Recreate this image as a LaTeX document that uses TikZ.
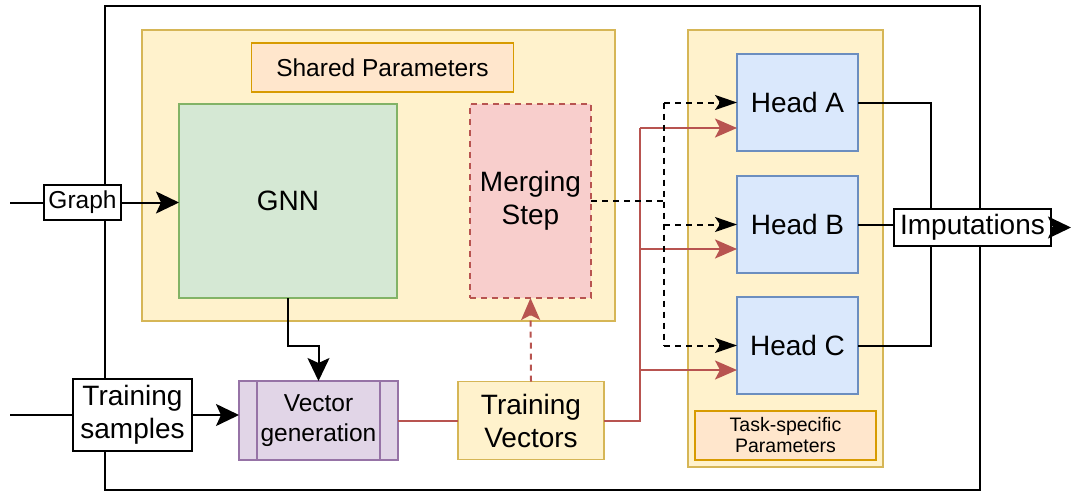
\documentclass[tikz,border=0pt]{standalone}
\usepackage{fontspec}
\setmainfont{Liberation Sans}
\usetikzlibrary{arrows.meta}
\definecolor{ylwF}{HTML}{FFF2CC}
\definecolor{ylwD}{HTML}{D6B656}
\definecolor{orgF}{HTML}{FFE6CC}
\definecolor{orgD}{HTML}{D79B00}
\definecolor{grnF}{HTML}{D5E8D4}
\definecolor{grnD}{HTML}{82B366}
\definecolor{redF}{HTML}{F8CECC}
\definecolor{redD}{HTML}{B85450}
\definecolor{bluF}{HTML}{DAE8FC}
\definecolor{bluD}{HTML}{6C8EBF}
\definecolor{purF}{HTML}{E1D5E7}
\definecolor{purD}{HTML}{9673A6}
\tikzset{
  box/.style={rectangle, inner sep=0pt, outer sep=0pt, line width=1.6pt, align=center, anchor=center},
  big/.style={font=\fontsize{28}{33}\selectfont},
  mid/.style={font=\fontsize{24.5}{30}\selectfont},
  sml/.style={font=\fontsize{19.5}{21}\selectfont},
  yel/.style={box, fill=ylwF, draw=ylwD},
  org/.style={box, fill=orgF, draw=orgD},
  wbox/.style={box, fill=white, draw=black},
  conn/.style={line width=2pt, black},
  barr/.style={conn, -{Stealth[length=23pt,width=22pt,inset=5pt]}},
  dconn/.style={line width=2pt, black, dash pattern=on 6pt off 5pt},
  darr/.style={dconn, -{Stealth[length=22pt,width=15pt,inset=5pt]}},
  rconn/.style={line width=2pt, redD},
  rarr/.style={rconn, -{Stealth[length=22pt,width=19pt,inset=5pt]}},
}
\begin{document}
\begin{tikzpicture}[x=1pt,y=-1pt]
\useasboundingbox (0,0) rectangle (1071,491);
% outer frame
\node[box, draw=black, line width=2pt, minimum width=875pt, minimum height=484pt] (outer) at (542.5,248) {};
% containers
\node[yel, minimum width=473pt, minimum height=291pt] (shared) at (378.5,175.5) {};
\node[yel, minimum width=195pt, minimum height=437pt] (task) at (785.5,248.5) {};
\node[org, mid, minimum width=262pt, minimum height=49pt] (sharedlbl) at (382.5,67.5) {Shared Parameters};
\node[org, sml, minimum width=181pt, minimum height=49pt] (tasklbl) at (785.5,435.5) {Task-specific\\Parameters};
% main blocks
\node[box, big, fill=grnF, draw=grnD, minimum width=218pt, minimum height=194pt] (gnn) at (288,201) {GNN};
\node[box, big, fill=redF, draw=redD, dash pattern=on 6pt off 5pt, minimum width=121pt, minimum height=194pt] (merge) at (530.5,201) {Merging\\Step};
\node[box, big, fill=bluF, draw=bluD, minimum width=121pt, minimum height=97pt] (headA) at (797.5,102.5) {Head A};
\node[box, big, fill=bluF, draw=bluD, minimum width=121pt, minimum height=97pt] (headB) at (797.5,224.5) {Head B};
\node[box, big, fill=bluF, draw=bluD, minimum width=121pt, minimum height=97pt] (headC) at (797.5,345.5) {Head C};
\node[box, mid, fill=purF, draw=purD, minimum width=159pt, minimum height=79pt] (vecgen) at (318.5,420.5) {Vector\\generation};
\draw[purD, line width=1.6pt] ([xshift=18pt]vecgen.north west) -- ([xshift=18pt]vecgen.south west);
\draw[purD, line width=1.6pt] ([xshift=-18pt]vecgen.north east) -- ([xshift=-18pt]vecgen.south east);
\node[yel, big, minimum width=146pt, minimum height=78pt] (trvec) at (531,420.5) {Training\\Vectors};
% inputs / outputs
\coordinate (gin) at (10,202.5);
\coordinate (tin) at (10,415);
\coordinate (iout) at (1071,227.5);
\node[wbox, mid, minimum width=77pt, minimum height=35pt] (graph) at (82.5,202.5) {Graph};
\node[wbox, big, minimum width=119pt, minimum height=72pt] (trsamp) at (132.5,415) {Training\\samples};
\node[wbox, big, minimum width=157pt, minimum height=37pt] (imput) at (972.5,227.5) {Imputations};
% connectors
\draw[conn] (gin) -- (graph.west);
\draw[barr] (graph.east) -- (graph.east -| gnn.west);
\draw[conn] (tin) -- (trsamp.west);
\draw[barr] (trsamp.east) -- (trsamp.east -| vecgen.west);
\draw[barr] (gnn.south) -- ++(0,48) -| (vecgen.north);
\draw[rconn] (vecgen.east) -- (trvec.west);
\draw[rarr, dash pattern=on 6pt off 5pt] (trvec.north) -- (merge.south);
% red fan-out
\coordinate (r1) at (640,128);
\coordinate (r2) at (640,249);
\coordinate (r3) at (640,370);
\draw[rconn] (trvec.east) -| (r1);
\draw[rarr] (r1) -- (r1 -| headA.west);
\draw[rarr] (r2) -- (r2 -| headB.west);
\draw[rarr] (r3) -- (r3 -| headC.west);
% black dashed fan-out
\coordinate (dm) at (664,201);
\coordinate (d1) at (664,102.5);
\coordinate (d2) at (664,224.5);
\coordinate (d3) at (664,345.5);
\draw[dconn] (merge.east) -- (dm);
\draw[dconn] (d1) -- (d3);
\draw[darr] (d1) -- (headA.west);
\draw[darr] (d2) -- (headB.west);
\draw[darr] (d3) -- (headC.west);
% heads to imputations
\coordinate (ij) at (931,227.5);
\draw[conn] (headA.east) -| (ij |- imput.north);
\draw[conn] (headC.east) -| (ij |- imput.south);
\draw[conn] (headB.east) -- (headB.east -| imput.west);
\draw[barr] (imput.east) -- (iout);
\end{tikzpicture}
\end{document}
